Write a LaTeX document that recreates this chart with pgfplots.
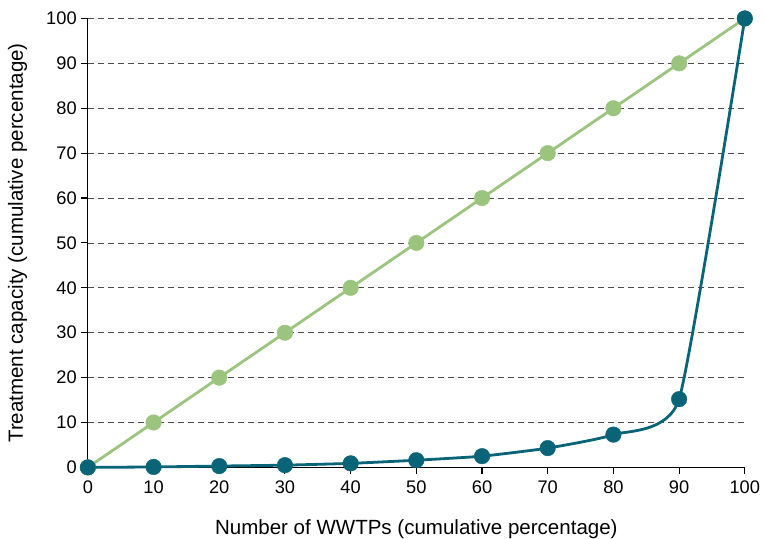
\documentclass[border=0pt]{standalone}
\usepackage{pgfplots}
\pgfplotsset{compat=1.18}
\usepackage{fontspec}
\setmainfont{Liberation Sans}
\definecolor{teal1}{RGB}{8,100,118}
\definecolor{green1}{RGB}{155,197,126}
\begin{document}
\begin{tikzpicture}
\begin{axis}[
  scale only axis,
  width=657bp, height=449bp,
  xmin=0, xmax=100, ymin=0, ymax=100,
  axis x line*=bottom, axis y line*=left,
  axis line style={black, line width=1.1pt},
  xtick={0,10,...,100}, ytick={0,10,...,100},
  tick style={black, line width=1.1pt},
  tick align=outside, major tick length=7bp,
  ymajorgrids,
  grid style={dash pattern=on 6bp off 4bp, gray!60!black, line width=0.8pt},
  /pgf/number format/assume math mode=true,
  ticklabel style={font=\fontsize{18.3}{20}\selectfont, inner xsep=4bp},
  xticklabel style={yshift=-3bp},
  yticklabel style={inner ysep=12bp},
  xlabel={Number of WWTPs (cumulative percentage)},
  ylabel={Treatment capacity (cumulative percentage)},
  xlabel style={font=\fontsize{20.6}{22}\selectfont, at={(axis description cs:0.5,0)}, anchor=base, yshift=-67bp, inner sep=0bp},
  ylabel style={font=\fontsize{20.6}{22}\selectfont, at={([xshift=-65bp]axis description cs:0,0.5)}, rotate=0, anchor=base, inner sep=8bp},
  clip=false,
]
\addplot[green1, line width=2.8bp, mark=*, mark size=7.8bp, mark options={fill=green1, draw=green1, line width=0.4pt}]
coordinates {(0,0)(10,10)(20,20)(30,30)(40,40)(50,50)(60,60)(70,70)(80,80)(90,90)(100,100)};
\addplot[teal1, line width=2.8bp, smooth, tension=0.3, mark=*, mark size=7.8bp, mark options={fill=teal1, draw=teal1, line width=0.4pt}]
coordinates {(0,0)(10,0.1)(20,0.3)(30,0.5)(40,0.9)(50,1.6)(60,2.5)(70,4.3)(80,7.3)(90,15.2)(100,100)};
\end{axis}
\end{tikzpicture}
\end{document}
